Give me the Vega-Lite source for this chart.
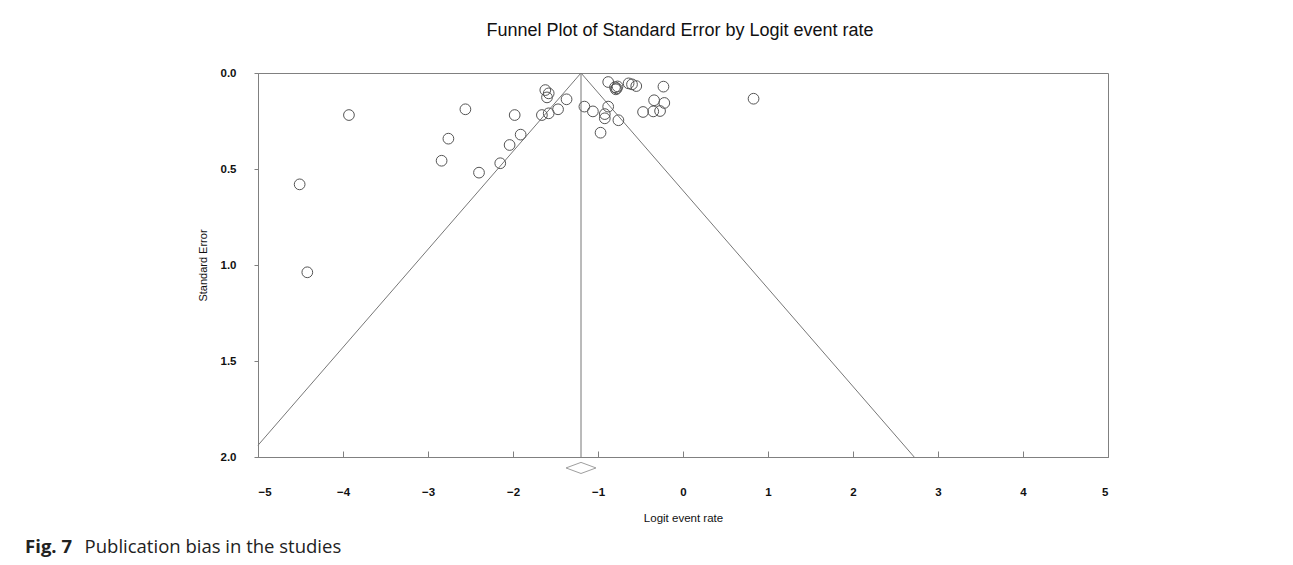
{
  "$schema": "https://vega.github.io/schema/vega-lite/v6.json",
  "autosize": "none",
  "width": 850,
  "height": 384,
  "padding": {"left": 258, "top": 73, "right": 185, "bottom": 108},
  "background": "white",
  "config": {
    "view": {"stroke": "#808080", "strokeWidth": 1},
    "font": "Liberation Sans"
  },
  "title": {
    "text": "Funnel Plot of Standard Error by Logit event rate",
    "font": "Liberation Sans",
    "fontSize": 18,
    "fontWeight": "normal",
    "color": "#111",
    "anchor": "middle",
    "offset": 27,
    "dx": -3
  },
  "datasets": {
    "studies": [
      {"logit": -3.93, "se": 0.219},
      {"logit": -4.51, "se": 0.580},
      {"logit": -4.42, "se": 1.038},
      {"logit": -2.56, "se": 0.189},
      {"logit": -2.76, "se": 0.342},
      {"logit": -2.84, "se": 0.457},
      {"logit": -2.40, "se": 0.519},
      {"logit": -2.15, "se": 0.470},
      {"logit": -2.04, "se": 0.375},
      {"logit": -1.91, "se": 0.321},
      {"logit": -1.98, "se": 0.219},
      {"logit": -1.66, "se": 0.219},
      {"logit": -1.58, "se": 0.210},
      {"logit": -1.47, "se": 0.189},
      {"logit": -1.37, "se": 0.137},
      {"logit": -1.62, "se": 0.089},
      {"logit": -1.58, "se": 0.106},
      {"logit": -1.60, "se": 0.127},
      {"logit": -1.16, "se": 0.175},
      {"logit": -1.06, "se": 0.200},
      {"logit": -0.88, "se": 0.047},
      {"logit": -0.80, "se": 0.074},
      {"logit": -0.78, "se": 0.080},
      {"logit": -0.79, "se": 0.085},
      {"logit": -0.77, "se": 0.070},
      {"logit": -0.64, "se": 0.054},
      {"logit": -0.60, "se": 0.059},
      {"logit": -0.55, "se": 0.068},
      {"logit": -0.23, "se": 0.071},
      {"logit": -0.88, "se": 0.175},
      {"logit": -0.92, "se": 0.214},
      {"logit": -0.92, "se": 0.236},
      {"logit": -0.97, "se": 0.311},
      {"logit": -0.76, "se": 0.246},
      {"logit": -0.47, "se": 0.203},
      {"logit": -0.34, "se": 0.142},
      {"logit": -0.35, "se": 0.200},
      {"logit": -0.27, "se": 0.198},
      {"logit": -0.22, "se": 0.156},
      {"logit": 0.83, "se": 0.134}
    ],
    "funnel": [
      {"line": "left", "ord": 0, "logit": -1.2, "se": 0},
      {"line": "left", "ord": 1, "logit": -5.0, "se": 1.939},
      {"line": "right", "ord": 0, "logit": -1.2, "se": 0},
      {"line": "right", "ord": 1, "logit": 2.72, "se": 2.0},
      {"line": "mid", "ord": 0, "logit": -1.2, "se": 0},
      {"line": "mid", "ord": 1, "logit": -1.2, "se": 2.0}
    ],
    "summary": [
      {"logit": -1.2, "se": 2.057}
    ],
    "caption": [
      {"part": "bold", "text": "Fig. 7"},
      {"part": "normal", "text": "Publication bias in the studies"}
    ]
  },
  "layer": [
    {
      "data": {"name": "funnel"},
      "mark": {"type": "line", "color": "#777777", "strokeWidth": 1},
      "encoding": {
        "x": {
          "field": "logit", "type": "quantitative",
          "scale": {"domain": [-5, 5], "nice": false, "zero": false},
          "axis": {
            "values": [-5, -4, -3, -2, -1, 0, 1, 2, 3, 4, 5],
            "format": "d",
            "title": "Logit event rate",
            "titleFont": "Liberation Sans",
            "titleFontSize": 11.5,
            "titleFontWeight": "normal",
            "titleColor": "#111",
            "titlePadding": 15,
            "labelFont": "Liberation Sans",
            "labelFontSize": 11.5,
            "labelFontWeight": "bold",
            "labelColor": "#111",
            "labelPadding": 35,
            "tickSize": -6,
            "tickColor": "#808080",
            "domainColor": "#808080",
            "grid": false
          }
        },
        "y": {
          "field": "se", "type": "quantitative",
          "scale": {"domain": [0, 2], "nice": false, "zero": false, "reverse": true},
          "axis": {
            "values": [0, 0.5, 1, 1.5, 2],
            "format": ".1f",
            "title": "Standard Error",
            "titleFont": "Liberation Sans",
            "titleFontSize": 11,
            "titleFontWeight": "normal",
            "titleColor": "#111",
            "titlePadding": 12,
            "labelFont": "Liberation Sans",
            "labelFontSize": 11.5,
            "labelFontWeight": "bold",
            "labelColor": "#111",
            "labelPadding": 18,
            "tickSize": 4,
            "tickColor": "#808080",
            "domainColor": "#808080",
            "grid": false
          }
        },
        "detail": {"field": "line"},
        "order": {"field": "ord"}
      }
    },
    {
      "data": {"name": "studies"},
      "mark": {"type": "point", "shape": "circle", "filled": false, "size": 115, "stroke": "#555555", "strokeWidth": 1, "opacity": 1},
      "encoding": {
        "x": {"field": "logit", "type": "quantitative"},
        "y": {"field": "se", "type": "quantitative"}
      }
    },
    {
      "data": {"name": "summary"},
      "mark": {"type": "point", "shape": "M-1,0L0,-0.37L1,0L0,0.37Z", "filled": false, "size": 900, "stroke": "#777777", "strokeWidth": 1, "clip": false},
      "encoding": {
        "x": {"field": "logit", "type": "quantitative"},
        "y": {"field": "se", "type": "quantitative"}
      }
    },
    {
      "data": {"name": "caption"},
      "transform": [{"filter": "datum.part === 'bold'"}],
      "mark": {"type": "text", "align": "left", "baseline": "middle", "font": "Open Sans", "fontSize": 18.5, "fontWeight": "bold", "color": "#222"},
      "encoding": {
        "x": {"datum": -7.74},
        "y": {"datum": 2.47},
        "text": {"field": "text"}
      }
    },
    {
      "data": {"name": "caption"},
      "transform": [{"filter": "datum.part === 'normal'"}],
      "mark": {"type": "text", "align": "left", "baseline": "middle", "font": "Open Sans", "fontSize": 18.5, "fontWeight": "normal", "color": "#222"},
      "encoding": {
        "x": {"datum": -7.04},
        "y": {"datum": 2.47},
        "text": {"field": "text"}
      }
    }
  ]
}
